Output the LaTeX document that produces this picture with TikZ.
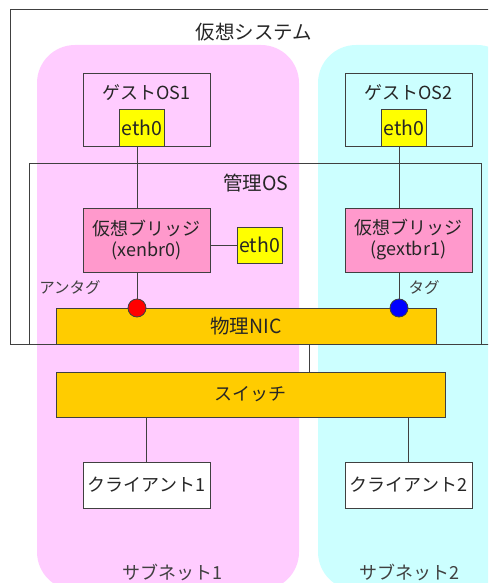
\documentclass[tikz,border=0pt]{standalone}
\usepackage{fontspec}
\setmainfont{Noto Sans CJK JP}
\definecolor{netpink}{HTML}{FFCCFF}
\definecolor{netcyan}{HTML}{CCFFFF}
\definecolor{brpink}{HTML}{FF99CC}
\definecolor{nicorange}{HTML}{FFCC00}
\definecolor{ethyellow}{HTML}{FFFF00}
\definecolor{linegray}{HTML}{404040}
\newcommand{\wire}[2]{\draw[wire] (#1) -- (#2);}
\newcommand{\bigfont}{\fontsize{19.5pt}{22pt}\selectfont}
\newcommand{\midfont}{\fontsize{18pt}{21pt}\selectfont}
\newcommand{\smallfont}{\fontsize{15.5pt}{18pt}\selectfont}

\begin{document}
\begin{tikzpicture}
                [x=1pt,y=-1pt,
                box/.style={rectangle,draw=linegray,line width=0.8pt,inner sep=0pt,
                  minimum width=127pt,text=black!85,font=\midfont},
                eth/.style={box,fill=ethyellow,minimum width=45pt,minimum height=37pt,font=\bigfont},
                bar/.style={box,fill=nicorange},
                port/.style={circle,draw=linegray,line width=0.8pt,minimum size=18pt,inner sep=0pt},
                frame/.style={draw=linegray,line width=0.8pt},
                wire/.style={draw=linegray,line width=0.8pt},
                tag/.style={text=black!75,font=\smallfont,inner sep=0pt},
                title/.style={text=black!85,font=\bigfont,inner sep=0pt},
                ]
                \useasboundingbox (0,0) rectangle (488,583);
                \clip (0,0) rectangle (488,583);
                % subnets
                \fill[netpink, rounded corners=38pt] (37,45) rectangle (299,590);
                \fill[netcyan, rounded corners=38pt] (318,45) rectangle (515,590);
                % frames
                \draw[frame] (10,9) rectangle (500,344);
                \draw[frame] (29,163) rectangle (481,344);
                \node[title] (vsys) at (254,32) {仮想システム};
                \node[title] (mgmt) at (256,183) {管理OS};
                % guests
                \node[box, minimum height=73pt] (guest1) at (146.5,109.5) {};
                \node[title, font=\midfont] (guest1txt) at (146.5,93) {ゲストOS1};
                \node[eth] (geth1) at (141.8,127.5) {eth0};
                \node[box, minimum height=73pt] (guest2) at (408.5,109.5) {};
                \node[title, font=\midfont] (guest2txt) at (408.5,93) {ゲストOS2};
                \node[eth] (geth2) at (404.2,127.5) {eth0};
                % bridges
                \node[box, fill=brpink, minimum height=64pt, align=center] (br1) at (146.5,240) {仮想ブリッジ\\(xenbr0)};
                \node[box, fill=brpink, minimum height=64pt, align=center] (br2) at (408.5,240) {仮想ブリッジ\\(gextbr1)};
                \node[eth, minimum height=36pt] (meth) at (259.5,245) {eth0};
                % nic and switch
                \node[bar, minimum width=380pt, minimum height=36pt, font=\bigfont] (nic) at (246,326) {物理NIC};
                \node[bar, minimum width=389pt, minimum height=45pt] (switch) at (250.5,394.5) {スイッチ};
                \coordinate (uplink) at (309,344);
                % clients
                \node[box, fill=white, minimum height=46pt] (client1) at (146.5,485) {クライアント1};
                \node[box, fill=white, minimum height=46pt] (client2) at (408.5,485) {クライアント2};
                % ports
                \node[port, fill=red] (untag) at (137,308) {};
                \node[port, fill=blue] (tagged) at (399,308) {};
                \node[tag] (untaglbl) at (70,288) {アンタグ};
                \node[tag] (taglbl) at (424,288) {タグ};
                \node[tag, font=\midfont] (sub1) at (172,572) {サブネット1};
                \node[tag, font=\midfont] (sub2) at (409,572) {サブネット2};
                % links
                \wire{geth1.south -| untag}{br1.north -| untag}
                \wire{br1.south -| untag}{untag.north}
                \wire{geth2.south -| tagged}{br2.north -| tagged}
                \wire{br2.south -| tagged}{tagged.north}
                \wire{meth.west}{meth.west -| br1.east}
                \wire{uplink}{switch.north -| uplink}
                \wire{switch.south -| client1.north}{client1.north}
                \wire{switch.south -| client2.north}{client2.north}
            \end{tikzpicture}
\end{document}
